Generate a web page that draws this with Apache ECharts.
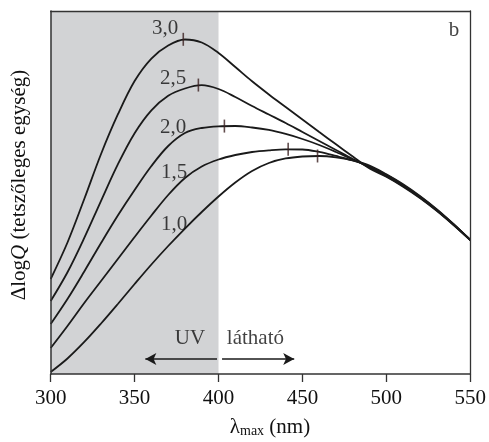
<!DOCTYPE html>
<html><head><meta charset="utf-8">
<script src="https://cdn.jsdelivr.net/npm/echarts@6/dist/echarts.min.js"></script>
<style>html,body{margin:0;padding:0;background:#fff}#c{width:489px;height:442px}</style>
</head><body><div id="c"></div>
<script>
// wavelength grid (nm)
const wavelengths = [300,310,320,330,340,350,360,370,380,390,400,410,420,430,440,450,460,470,480,490,500,510,520,530,540,550];
// ΔlogQ curves (arbitrary units), one per parameter value
const curve30 = [26.17,36.23,48.21,60.61,71.49,80.72,86.91,90.50,92.15,91.32,88.43,84.57,80.63,77.00,73.55,70.11,66.67,63.28,59.92,56.61,54.35,51.60,48.48,44.96,41.05,36.91];
const curve25 = [20.11,28.02,37.47,47.71,57.74,66.34,72.64,76.64,78.65,79.56,78.51,76.31,73.83,71.49,69.15,66.67,64.19,61.71,59.23,56.89,54.52,51.76,48.62,45.07,41.13,36.91];
const curve20 = [13.77,20.66,28.24,36.09,43.66,50.69,57.30,62.81,66.39,67.77,68.24,68.32,67.91,67.22,66.12,64.74,63.09,61.16,59.09,57.02,54.68,51.93,48.76,45.18,41.18,36.91];
const curve15 = [7.16,13.22,19.56,25.62,31.68,37.74,43.66,49.31,53.99,57.16,59.09,60.33,61.16,61.63,61.90,61.85,61.16,60.06,58.82,57.16,54.85,52.09,48.90,45.29,41.27,36.91];
const curve10 = [0.55,4.27,8.82,13.91,19.28,24.79,30.17,35.26,40.08,44.63,48.90,52.75,55.92,58.13,59.37,59.92,60.06,59.70,58.82,57.44,55.01,52.26,49.04,45.40,41.32,36.91];
const curveNames = ['3,0','2,5','2,0','1,5','1,0'];
// maxima marks
const peakX = [379,388,403.5,441.5,459];
const peakY = [92.2,79.6,68.3,61.9,60.06];
// curve label anchors (data coords)
const labelX = [368.2,372.9,372.9,373.5,373.5];
const labelY = [95.3,81.5,68.0,55.4,41.3];
// region annotation
const uvRange = [300,400];
const xTicks = [300,350,400,450,500,550];

const curves = [curve30,curve25,curve20,curve15,curve10];
const serif = 'Liberation Serif';
const ink = '#1a1a1a';

const lineSeries = curves.map((c,i)=>({
  type:'line', name:curveNames[i], data:wavelengths.map((x,j)=>[x,c[j]]),
  smooth:0.35, showSymbol:false, symbol:'none', silent:true,
  lineStyle:{color:ink,width:1.8}, z:3
}));
lineSeries[0].markArea = {silent:true, itemStyle:{color:'#d2d3d5'},
  data:[[{xAxis:uvRange[0]},{xAxis:uvRange[1]}]]};
lineSeries[0].markLine = {silent:true, symbol:['none','arrow'], symbolSize:[9,11],
  label:{show:false}, lineStyle:{color:ink,width:1.5,type:'solid'},
  data:[[{coord:[399.1,4.1]},{coord:[356.4,4.1]}],[{coord:[402.1,4.1]},{coord:[445.1,4.1]}]]};

const option = {
  animation:false,
  grid:{left:50.7,right:15.6,top:11,bottom:68,show:false},
  xAxis:[{type:'value',min:300,max:550,interval:50,z:6,
    axisLine:{show:true,onZero:false,lineStyle:{color:'#333',width:1.5}},
    axisTick:{show:true,inside:false,length:8,lineStyle:{color:'#333',width:1.3}},
    axisLabel:{fontFamily:serif,fontSize:21,color:'#111',margin:14},
    splitLine:{show:false}},
   {type:'value',position:'top',min:300,max:550,z:6,
    axisLine:{show:true,onZero:false,lineStyle:{color:'#333',width:1.3}},
    axisTick:{show:false},axisLabel:{show:false},splitLine:{show:false}}],
  yAxis:[{type:'value',min:0,max:100,z:6,
    axisLine:{show:true,onZero:false,lineStyle:{color:'#333',width:1.5}},
    axisTick:{show:false},axisLabel:{show:false},splitLine:{show:false}},
   {type:'value',position:'right',min:0,max:100,z:6,
    axisLine:{show:true,onZero:false,lineStyle:{color:'#333',width:1.3}},
    axisTick:{show:false},axisLabel:{show:false},splitLine:{show:false}}],
  series:[...lineSeries,
    {type:'scatter',silent:true,symbol:'rect',symbolSize:[1.6,13],z:4,
     itemStyle:{color:'#3b2020'},data:peakX.map((x,i)=>[x,peakY[i]])},
    {type:'scatter',silent:true,symbolSize:0,z:5,
     label:{show:true,position:'inside',formatter:'{b}',fontFamily:serif,fontSize:21,color:'#111'},
     data:labelX.map((x,i)=>({name:curveNames[i],value:[x,labelY[i]]})).concat([
       {name:'UV',value:[383.0,9.8]},{name:'látható',value:[422.0,9.9]},{name:'b',value:[540.3,94.6]}])}
  ],
  graphic:[
    {type:'text',x:270,y:427,style:{text:'{a|λ}{s|max}{a| (nm)}',align:'center',verticalAlign:'middle',fill:'#111',
      rich:{a:{fontFamily:serif,fontSize:21,fill:'#111',lineHeight:22,verticalAlign:'bottom'},
            s:{fontFamily:serif,fontSize:14,fill:'#111',lineHeight:22,verticalAlign:'bottom'}}}},
    {type:'text',x:19,y:185,rotation:Math.PI/2,style:{text:'{a|Δlog}{i|Q}{a| (tetszőleges egység)}',align:'center',verticalAlign:'middle',fill:'#111',
      rich:{a:{fontFamily:serif,fontSize:21,fill:'#111'},i:{fontFamily:serif,fontSize:21,fontStyle:'italic',fill:'#111'}}}}
  ]
};
const chart = echarts.init(document.getElementById('c'),null,{renderer:'canvas'});
chart.setOption(option);
</script></body></html>
